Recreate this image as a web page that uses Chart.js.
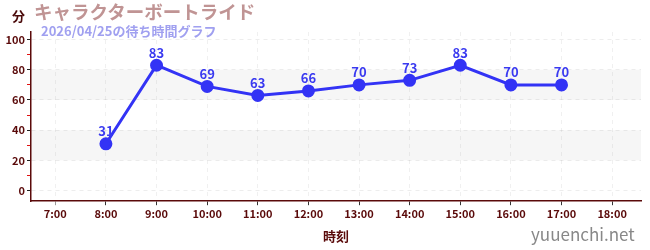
<!DOCTYPE html>
<html><head><meta charset="utf-8">
<script src="https://cdn.jsdelivr.net/npm/chart.js@4"></script>
<style>
html,body{margin:0;padding:0;background:#fff;}
#wrap{position:relative;width:650px;height:250px;font-family:"Noto Sans CJK JP","Noto Sans",sans-serif;}
canvas{position:absolute;left:0;top:0;}
.t{position:absolute;white-space:nowrap;}
</style></head><body>
<div id="wrap">
<canvas id="c" width="650" height="250"></canvas>
<div class="t" style="left:12px;top:6px;font-size:13px;font-weight:bold;color:#4a0a0a;">分</div>
<div class="t" style="left:34px;top:-2px;font-size:18.5px;font-weight:bold;color:#c09494;">キャラクターボートライド</div>
<div class="t" style="left:41px;top:21px;font-size:13px;font-weight:bold;color:#a0a0f0;">2026/04/25の待ち時間グラフ</div>
<div class="t" style="left:531px;top:221px;font-size:17px;color:#888;">yuuenchi.net</div>
</div>
<script>
const hours = [8, 9, 10, 11, 12, 13, 14, 15, 16, 17];
const waits = [31, 83, 69, 63, 66, 70, 73, 83, 70, 70];
const xTicks = [7, 8, 9, 10, 11, 12, 13, 14, 15, 16, 17, 18];
const yMajor = [0, 20, 40, 60, 80, 100];
const bands = [[20, 40], [60, 80]];

const axisColor = '#5a0a0a';
const bandPlugin = {
  id: 'bands',
  beforeDatasetsDraw(chart) {
    const {ctx, chartArea: a, scales: {y}} = chart;
    ctx.save();
    ctx.fillStyle = 'rgba(0,0,0,0.035)';
    bands.forEach(([lo, hi]) => {
      const t = y.getPixelForValue(hi), b = y.getPixelForValue(lo);
      ctx.fillRect(a.left, t, a.right - a.left, b - t);
    });
    ctx.restore();
  }
};
const labelPlugin = {
  id: 'vlabels',
  afterDatasetsDraw(chart) {
    const {ctx} = chart;
    const meta = chart.getDatasetMeta(0);
    ctx.save();
    ctx.font = 'bold 13px "Noto Sans CJK JP", "Noto Sans", sans-serif';
    ctx.fillStyle = '#3a3af0';
    ctx.textAlign = 'center';
    ctx.textBaseline = 'bottom';
    meta.data.forEach((p, i) => {
      ctx.fillText(String(waits[i]), p.x, p.y - 6);
    });
    ctx.restore();
  }
};
new Chart(document.getElementById('c'), {
  type: 'line',
  data: {
    datasets: [{
      data: hours.map((h, i) => ({x: h, y: waits[i]})),
      borderColor: '#3333f5',
      backgroundColor: '#3333f5',
      borderWidth: 3,
      pointRadius: 5,
      pointHoverRadius: 5,
      tension: 0
    }]
  },
  options: {
    responsive: false,
    animation: false,
    events: [],
    layout: {padding: {left: 0, right: 9, top: 32, bottom: 0}},
    plugins: {legend: {display: false}, tooltip: {enabled: false}},
    scales: {
      x: {
        type: 'linear',
        min: 6.52, max: 18.57,
        afterBuildTicks(s) { s.ticks = xTicks.map(v => ({value: v})); },
        ticks: {
          color: axisColor,
          font: {size: 11, weight: 'bold', family: '"Noto Sans CJK JP", sans-serif'},
          callback: v => v + ':00',
          maxRotation: 0, autoSkip: false, padding: 2
        },
        grid: {color: 'rgba(0,0,0,0.06)', tickColor: c => (c.tick && c.tick.value === 7 ? '#999' : '#333'), tickLength: 4, drawOnChartArea: true},
        border: {color: axisColor, width: 1.5, dash: [4, 4]},
        title: {display: true, text: '時刻', color: axisColor, font: {size: 13, weight: 'bold', family: '"Noto Sans CJK JP", sans-serif'}, padding: {top: 6, bottom: 6}}
      },
      y: {
        min: -7, max: 105,
        afterBuildTicks(s) {
          const t = [];
          for (let v = 0; v <= 100; v += 10) t.push({value: v});
          s.ticks = t;
        },
        afterFit(s) { s.width = 31; },
        ticks: {
          color: axisColor,
          font: {size: 11, weight: 'bold', family: '"Noto Sans CJK JP", sans-serif'},
          callback: v => (yMajor.includes(v) ? String(v) : ''),
          padding: 2, autoSkip: false
        },
        grid: {
          color: c => (yMajor.includes(c.tick.value) ? 'rgba(0,0,0,0.07)' : 'rgba(0,0,0,0)'),
          tickColor: c => (yMajor.includes(c.tick.value) ? '#222' : '#e01010'),
          tickLength: 4
        },
        border: {color: axisColor, width: 1.5, dash: [4, 4]}
      }
    }
  },
  plugins: [bandPlugin, labelPlugin]
});
</script>
</body></html>
